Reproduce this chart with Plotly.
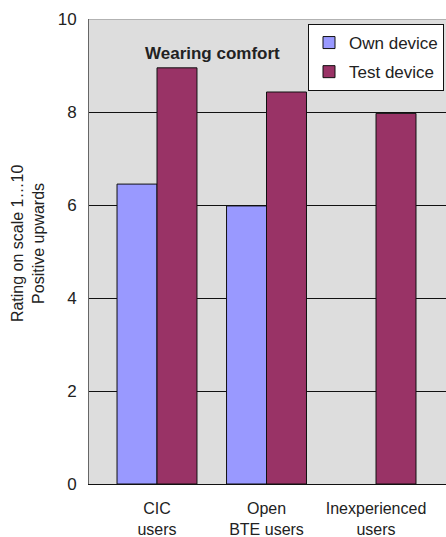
import plotly.graph_objects as go

categories = ["CIC<br>users", "Open<br>BTE users", "Inexperienced<br>users"]
own_device = [6.45, 5.98, None]
test_device = [8.95, 8.43, 7.97]
y_ticks = [0, 2, 4, 6, 8, 10]

FONT = "Liberation Sans, Arial, sans-serif"
TXT = "#222222"
W, H = 446, 537

fig = go.Figure()
fig.add_trace(go.Bar(
    x=categories, y=own_device, name="Own device",
    marker=dict(color="#9999FF", line=dict(color="#111111", width=1)),
    legendgroup="a",
))
fig.add_trace(go.Bar(
    x=categories, y=test_device, name="Test device",
    marker=dict(color="#993366", line=dict(color="#111111", width=1)),
    legendgroup="b",
))

fig.update_layout(
    width=W, height=H,
    margin=dict(l=89, r=0, t=19, b=53, autoexpand=False),
    paper_bgcolor="white",
    plot_bgcolor="#DDDDDD",
    barmode="group",
    bargap=0.27,
    bargroupgap=0,
    font=dict(family=FONT, size=17, color=TXT),
    showlegend=True,
    legend=dict(
        xref="container", yref="container",
        x=308 / W, xanchor="left", y=1 - 24 / H, yanchor="top",
        bgcolor="white", bordercolor="#111111", borderwidth=1,
        font=dict(size=17, family=FONT, color=TXT),
        tracegroupgap=4,
    ),
    annotations=[
        dict(text="<b>Wearing comfort</b>", x=0.347, y=0.9505,
             xref="paper", yref="paper", showarrow=False,
             font=dict(size=17, family=FONT, color=TXT)),
        dict(text="Rating on scale 1…10<br>Positive upwards", x=-0.1709, y=0.518,
             xref="paper", yref="paper", showarrow=False, textangle=-90,
             xanchor="center", yanchor="middle",
             font=dict(size=16, family=FONT, color=TXT)),
    ],
    shapes=[dict(type="line", xref="paper", yref="y", x0=0, x1=1, y0=10, y1=10,
                 line=dict(color="#888888", width=1))],
)
fig.update_xaxes(
    type="category", range=[-0.621, 2.639], automargin=False,
    showgrid=False, showline=True, linecolor="#111111", linewidth=1,
    ticks="", tickfont=dict(size=16), ticklabelstandoff=10,
)
fig.update_yaxes(
    range=[0, 10], tickvals=y_ticks, automargin=False,
    showgrid=True, gridcolor="#111111", gridwidth=1,
    showline=True, linecolor="#666666", linewidth=1, zeroline=False,
    ticks="", ticklabelstandoff=8, tickfont=dict(size=17),
)

fig.write_html(
    "out.html",
    config={"displayModeBar": False},
    post_script="document.body.style.margin='0';document.body.style.overflow='hidden';",
)
